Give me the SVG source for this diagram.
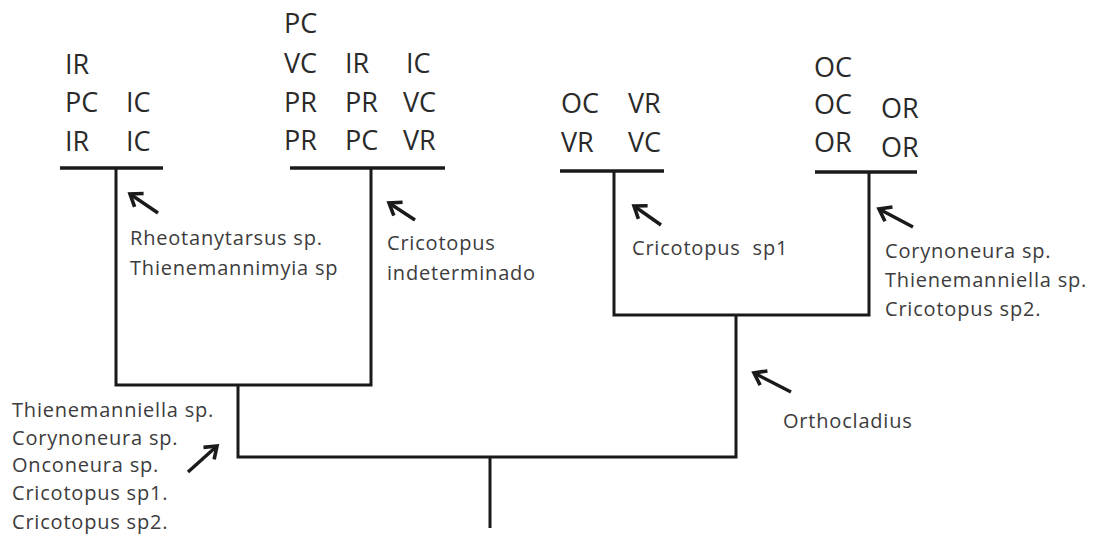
<svg xmlns="http://www.w3.org/2000/svg" width="1093" height="542" viewBox="0 0 1093 542">
<style>
.code{font-family:"Open Sans","Liberation Sans",sans-serif;font-size:27px;fill:#2a2a2a}
.sp{font-family:"Open Sans","Liberation Sans",sans-serif;font-size:20px;letter-spacing:0.8px;fill:#3c3c3c}
.bar{stroke:#1a1a1a;stroke-width:3.5;fill:none}
.ln{stroke:#1a1a1a;stroke-width:3;fill:none;stroke-linejoin:miter}
.arr{stroke:#1a1a1a;stroke-width:3.4;fill:none;marker-end:url(#ah)}
</style>
<defs>
<marker id="ah" markerUnits="userSpaceOnUse" viewBox="-15 -10 18 20" refX="0" refY="0" markerWidth="18" markerHeight="20" orient="auto">
<path d="M-11,-8 L0,0 L-11,8" fill="none" stroke="#1a1a1a" stroke-width="3.6" stroke-linejoin="miter"/>
</marker>
</defs>
<rect width="1093" height="542" fill="#fff"/>

<g id="connectors">
<path class="ln" d="M116,168 V385 H371 V168"/>
<path class="ln" d="M238,385 V457 H736 V315"/>
<path class="ln" d="M614,170 V315 H869 V171"/>
<path class="ln" d="M490,457 V528"/>
</g>

<g id="leaf1">
<line class="bar" x1="60" y1="168" x2="163" y2="168"/>
<text class="code" x="65" y="74">IR</text>
<text class="code" x="65" y="112">PC</text>
<text class="code" x="65" y="151">IR</text>
<text class="code" x="126" y="112">IC</text>
<text class="code" x="126" y="151">IC</text>
</g>

<g id="leaf2">
<line class="bar" x1="290" y1="168" x2="445" y2="168"/>
<text class="code" x="284" y="33">PC</text>
<text class="code" x="284" y="73">VC</text>
<text class="code" x="284" y="112">PR</text>
<text class="code" x="284" y="150">PR</text>
<text class="code" x="345" y="73">IR</text>
<text class="code" x="345" y="112">PR</text>
<text class="code" x="345" y="150">PC</text>
<text class="code" x="406" y="73">IC</text>
<text class="code" x="403" y="112">VC</text>
<text class="code" x="403" y="150">VR</text>
</g>

<g id="leaf3">
<line class="bar" x1="560" y1="171" x2="664" y2="171"/>
<text class="code" x="561" y="113">OC</text>
<text class="code" x="561" y="152">VR</text>
<text class="code" x="628" y="113">VR</text>
<text class="code" x="628" y="152">VC</text>
</g>

<g id="leaf4">
<line class="bar" x1="815" y1="172" x2="917" y2="172"/>
<text class="code" x="814" y="77">OC</text>
<text class="code" x="814" y="114">OC</text>
<text class="code" x="814" y="152">OR</text>
<text class="code" x="881" y="118">OR</text>
<text class="code" x="881" y="157">OR</text>
</g>

<g id="label-leaf1">
<line class="arr" x1="158" y1="213" x2="130" y2="194"/>
<text class="sp" x="130" y="245">Rheotanytarsus sp.</text>
<text class="sp" x="130" y="275">Thienemannimyia sp</text>
</g>

<g id="label-leaf2">
<line class="arr" x1="415" y1="220" x2="389" y2="203"/>
<text class="sp" x="387" y="250">Cricotopus</text>
<text class="sp" x="387" y="280">indeterminado</text>
</g>

<g id="label-leaf3">
<line class="arr" x1="661" y1="225" x2="634" y2="206"/>
<text class="sp" x="632" y="255" xml:space="preserve">Cricotopus  sp1</text>
</g>

<g id="label-leaf4">
<line class="arr" x1="913" y1="227" x2="879" y2="209"/>
<text class="sp" x="885" y="258">Corynoneura sp.</text>
<text class="sp" x="885" y="287">Thienemanniella sp.</text>
<text class="sp" x="885" y="316">Cricotopus sp2.</text>
</g>

<g id="label-right">
<line class="arr" x1="791" y1="392" x2="754" y2="373"/>
<text class="sp" x="783" y="428">Orthocladius</text>
</g>

<g id="label-left">
<line class="arr" x1="188" y1="472" x2="217" y2="446"/>
<text class="sp" x="12" y="417">Thienemanniella sp.</text>
<text class="sp" x="12" y="445">Corynoneura sp.</text>
<text class="sp" x="12" y="472">Onconeura sp.</text>
<text class="sp" x="12" y="500">Cricotopus sp1.</text>
<text class="sp" x="12" y="529">Cricotopus sp2.</text>
</g>
</svg>
